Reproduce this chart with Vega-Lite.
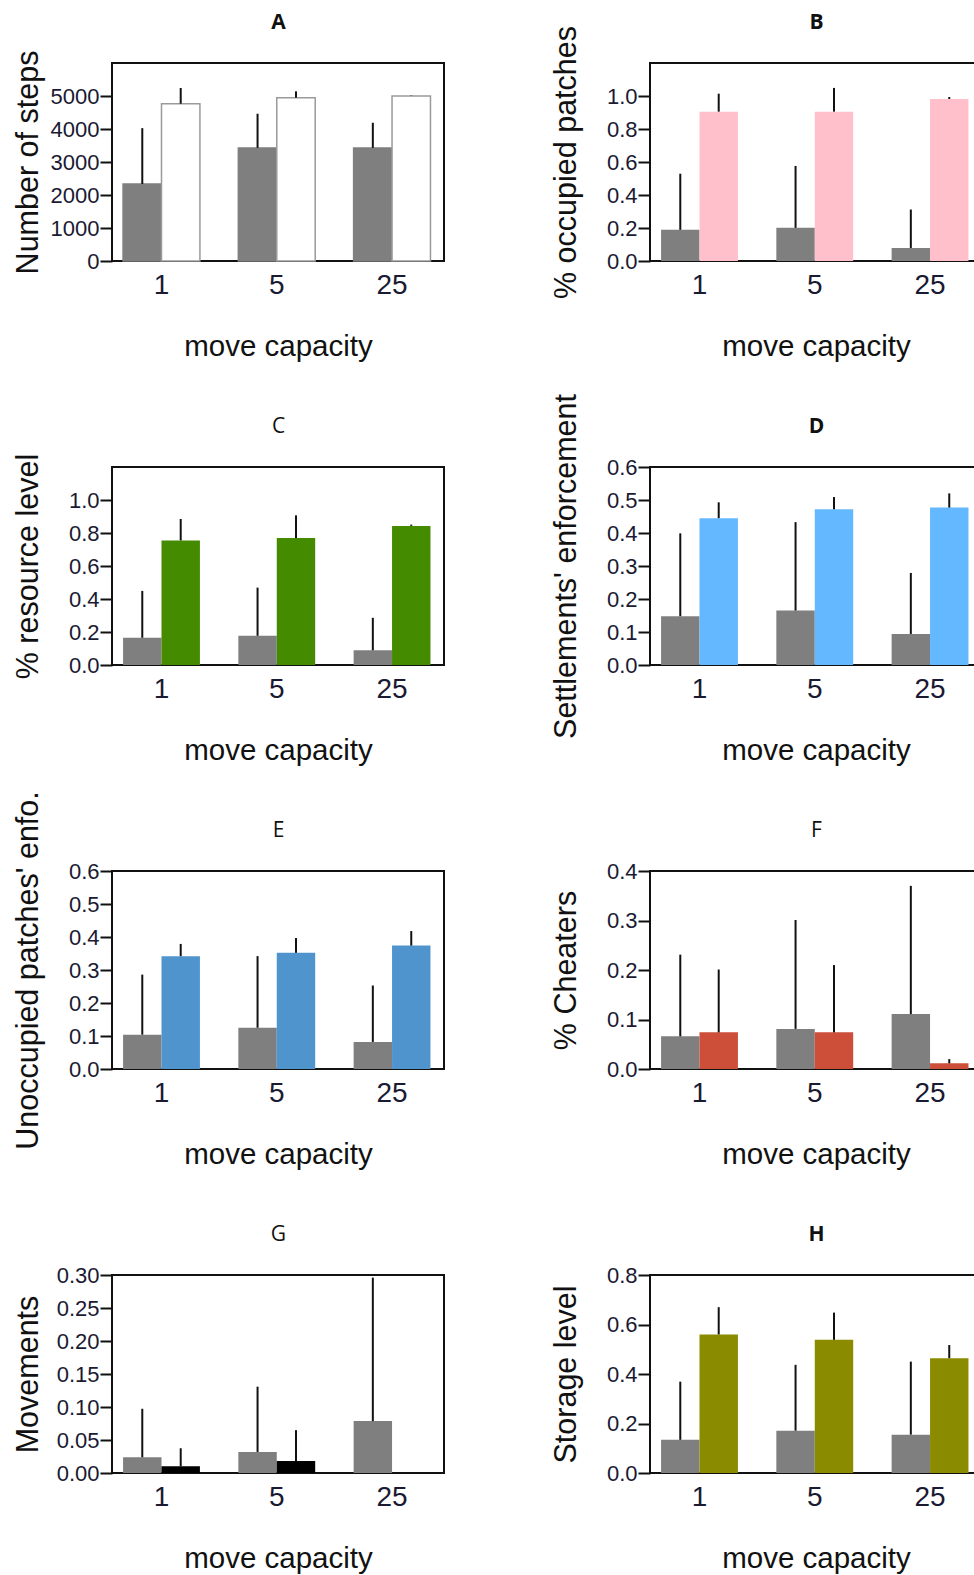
{
  "$schema": "https://vega.github.io/schema/vega-lite/v6.json",
  "padding": {"left": 11, "top": 10, "right": 0, "bottom": 0},
  "background": "white",
  "config": {
    "font": "Liberation Sans",
    "view": {"stroke": "#111111", "strokeWidth": 2},
    "axisBottom": {"domain": false, "ticks": false, "labelFontSize": 28, "labelPadding": 10, "labelAngle": 0, "labelOverlap": false, "labelColor": "#1a1a33", "titleFontSize": 29.5, "titleFontWeight": "normal", "titleY": 94, "titleBaseline": "alphabetic", "titleColor": "#111111", "grid": false},
    "axisTop": {"domain": false, "ticks": false, "labels": false, "grid": false, "titleFont": "Open Sans", "titleFontSize": 21, "titleY": -35, "titleBaseline": "alphabetic", "titleColor": "#111111"},
    "axisY": {"domain": false, "ticks": true, "tickSize": 12, "tickWidth": 2, "tickColor": "#111111", "labelFontSize": 22, "labelPadding": 1, "labelOverlap": false, "labelColor": "#1a1a33", "titleFontSize": 30.5, "titleFontWeight": "normal", "titleX": -75, "titleBaseline": "alphabetic", "titleColor": "#111111", "grid": false}
  },
  "data": {"values": [
    {"panel": "A", "capacity": "1", "series": "s1", "mean": 2333, "upper": 4026},
    {"panel": "A", "capacity": "1", "series": "s2", "mean": 4767, "upper": 5243},
    {"panel": "A", "capacity": "5", "series": "s1", "mean": 3428, "upper": 4462},
    {"panel": "A", "capacity": "5", "series": "s2", "mean": 4949, "upper": 5142},
    {"panel": "A", "capacity": "25", "series": "s1", "mean": 3428, "upper": 4189},
    {"panel": "A", "capacity": "25", "series": "s2", "mean": 5000, "upper": 5010},
    {"panel": "B", "capacity": "1", "series": "s1", "mean": 0.189, "upper": 0.529},
    {"panel": "B", "capacity": "1", "series": "s2", "mean": 0.905, "upper": 1.014},
    {"panel": "B", "capacity": "5", "series": "s1", "mean": 0.201, "upper": 0.576},
    {"panel": "B", "capacity": "5", "series": "s2", "mean": 0.905, "upper": 1.049},
    {"panel": "B", "capacity": "25", "series": "s1", "mean": 0.079, "upper": 0.312},
    {"panel": "B", "capacity": "25", "series": "s2", "mean": 0.982, "upper": 0.994},
    {"panel": "C", "capacity": "1", "series": "s1", "mean": 0.165, "upper": 0.449},
    {"panel": "C", "capacity": "1", "series": "s2", "mean": 0.755, "upper": 0.885},
    {"panel": "C", "capacity": "5", "series": "s1", "mean": 0.177, "upper": 0.469},
    {"panel": "C", "capacity": "5", "series": "s2", "mean": 0.769, "upper": 0.907},
    {"panel": "C", "capacity": "25", "series": "s1", "mean": 0.089, "upper": 0.286},
    {"panel": "C", "capacity": "25", "series": "s2", "mean": 0.843, "upper": 0.851},
    {"panel": "D", "capacity": "1", "series": "s1", "mean": 0.148, "upper": 0.399},
    {"panel": "D", "capacity": "1", "series": "s2", "mean": 0.445, "upper": 0.493},
    {"panel": "D", "capacity": "5", "series": "s1", "mean": 0.165, "upper": 0.433},
    {"panel": "D", "capacity": "5", "series": "s2", "mean": 0.472, "upper": 0.509},
    {"panel": "D", "capacity": "25", "series": "s1", "mean": 0.094, "upper": 0.279},
    {"panel": "D", "capacity": "25", "series": "s2", "mean": 0.477, "upper": 0.52},
    {"panel": "E", "capacity": "1", "series": "s1", "mean": 0.104, "upper": 0.286},
    {"panel": "E", "capacity": "1", "series": "s2", "mean": 0.342, "upper": 0.379},
    {"panel": "E", "capacity": "5", "series": "s1", "mean": 0.125, "upper": 0.342},
    {"panel": "E", "capacity": "5", "series": "s2", "mean": 0.352, "upper": 0.397},
    {"panel": "E", "capacity": "25", "series": "s1", "mean": 0.082, "upper": 0.253},
    {"panel": "E", "capacity": "25", "series": "s2", "mean": 0.374, "upper": 0.418},
    {"panel": "F", "capacity": "1", "series": "s1", "mean": 0.066, "upper": 0.231},
    {"panel": "F", "capacity": "1", "series": "s2", "mean": 0.074, "upper": 0.201},
    {"panel": "F", "capacity": "5", "series": "s1", "mean": 0.081, "upper": 0.301},
    {"panel": "F", "capacity": "5", "series": "s2", "mean": 0.074, "upper": 0.21},
    {"panel": "F", "capacity": "25", "series": "s1", "mean": 0.111, "upper": 0.37},
    {"panel": "F", "capacity": "25", "series": "s2", "mean": 0.0115, "upper": 0.02},
    {"panel": "G", "capacity": "1", "series": "s1", "mean": 0.0238, "upper": 0.0973},
    {"panel": "G", "capacity": "1", "series": "s2", "mean": 0.0101, "upper": 0.0375},
    {"panel": "G", "capacity": "5", "series": "s1", "mean": 0.0319, "upper": 0.1308},
    {"panel": "G", "capacity": "5", "series": "s2", "mean": 0.0182, "upper": 0.0649},
    {"panel": "G", "capacity": "25", "series": "s1", "mean": 0.0786, "upper": 0.296},
    {"panel": "G", "capacity": "25", "series": "s2", "mean": 0, "upper": 0},
    {"panel": "H", "capacity": "1", "series": "s1", "mean": 0.134, "upper": 0.369},
    {"panel": "H", "capacity": "1", "series": "s2", "mean": 0.56, "upper": 0.67},
    {"panel": "H", "capacity": "5", "series": "s1", "mean": 0.171, "upper": 0.437},
    {"panel": "H", "capacity": "5", "series": "s2", "mean": 0.538, "upper": 0.648},
    {"panel": "H", "capacity": "25", "series": "s1", "mean": 0.155, "upper": 0.45},
    {"panel": "H", "capacity": "25", "series": "s2", "mean": 0.464, "upper": 0.517}
  ]},
  "columns": 2,
  "bounds": "flush",
  "spacing": {"row": 206, "column": 206},
  "resolve": {"scale": {"color": "independent", "stroke": "independent"}},
  "concat": [
    {
      "width": 332, "height": 198,
      "transform": [{"filter": "datum.panel === 'A'"}],
      "resolve": {"axis": {"x": "independent"}},
      "encoding": {
        "y": {"field": "mean", "type": "quantitative", "scale": {"domain": [0, 6000], "nice": false, "zero": true}, "axis": {"title": "Number of steps", "values": [0, 1000, 2000, 3000, 4000, 5000], "format": "d"}}
      },
      "layer": [
        {"mark": {"type": "bar", "strokeWidth": 1.5},
         "encoding": {
           "x": {"field": "capacity", "type": "ordinal", "sort": ["1", "5", "25"], "scale": {"paddingInner": 0.3333, "paddingOuter": 0.1067, "align": 0.45}, "axis": {"orient": "bottom", "title": "move capacity"}},
           "xOffset": {"field": "series", "type": "nominal", "scale": {"paddingInner": 0, "paddingOuter": 0}},
           "color": {"field": "series", "type": "nominal", "scale": {"domain": ["s1", "s2"], "range": ["#7F7F7F", "#FFFFFF"]}, "legend": null},
           "stroke": {"field": "series", "type": "nominal", "scale": {"domain": ["s1", "s2"], "range": ["#7F7F7F", "#9A9A9A"]}, "legend": null}
         }},
        {"mark": {"type": "rule", "strokeWidth": 2, "color": "#111111"},
         "encoding": {
           "x": {"field": "capacity", "type": "ordinal", "sort": ["1", "5", "25"], "axis": {"orient": "top", "title": "A", "titleFontWeight": "bold", "titleFontSize": 21, "titleFont": "Open Sans"}},
           "xOffset": {"field": "series", "type": "nominal"},
           "y2": {"field": "upper"}
         }}
      ]
    },
    {
      "width": 332, "height": 198,
      "transform": [{"filter": "datum.panel === 'B'"}],
      "resolve": {"axis": {"x": "independent"}},
      "encoding": {
        "y": {"field": "mean", "type": "quantitative", "scale": {"domain": [0, 1.2], "nice": false}, "axis": {"title": "% occupied patches", "values": [0, 0.2, 0.4, 0.6, 0.8, 1.0], "format": ".1f"}}
      },
      "layer": [
        {"mark": {"type": "bar"},
         "encoding": {
           "x": {"field": "capacity", "type": "ordinal", "sort": ["1", "5", "25"], "scale": {"paddingInner": 0.3333, "paddingOuter": 0.1067, "align": 0.45}, "axis": {"orient": "bottom", "title": "move capacity"}},
           "xOffset": {"field": "series", "type": "nominal", "scale": {"paddingInner": 0, "paddingOuter": 0}},
           "color": {"field": "series", "type": "nominal", "scale": {"domain": ["s1", "s2"], "range": ["#7F7F7F", "#FFC0CB"]}, "legend": null}
         }},
        {"mark": {"type": "rule", "strokeWidth": 2, "color": "#111111"},
         "encoding": {
           "x": {"field": "capacity", "type": "ordinal", "sort": ["1", "5", "25"], "axis": {"orient": "top", "title": "B", "titleFontWeight": "bold", "titleFontSize": 21, "titleFont": "Open Sans"}},
           "xOffset": {"field": "series", "type": "nominal"},
           "y2": {"field": "upper"}
         }}
      ]
    },
    {
      "width": 332, "height": 198,
      "transform": [{"filter": "datum.panel === 'C'"}],
      "resolve": {"axis": {"x": "independent"}},
      "encoding": {
        "y": {"field": "mean", "type": "quantitative", "scale": {"domain": [0, 1.2], "nice": false}, "axis": {"title": "% resource level", "values": [0, 0.2, 0.4, 0.6, 0.8, 1.0], "format": ".1f"}}
      },
      "layer": [
        {"mark": {"type": "bar"},
         "encoding": {
           "x": {"field": "capacity", "type": "ordinal", "sort": ["1", "5", "25"], "scale": {"paddingInner": 0.3333, "paddingOuter": 0.1067, "align": 0.45}, "axis": {"orient": "bottom", "title": "move capacity"}},
           "xOffset": {"field": "series", "type": "nominal", "scale": {"paddingInner": 0, "paddingOuter": 0}},
           "color": {"field": "series", "type": "nominal", "scale": {"domain": ["s1", "s2"], "range": ["#7F7F7F", "#458B00"]}, "legend": null}
         }},
        {"mark": {"type": "rule", "strokeWidth": 2, "color": "#111111"},
         "encoding": {
           "x": {"field": "capacity", "type": "ordinal", "sort": ["1", "5", "25"], "axis": {"orient": "top", "title": "C", "titleFontWeight": "normal", "titleFontSize": 21, "titleFont": "Open Sans"}},
           "xOffset": {"field": "series", "type": "nominal"},
           "y2": {"field": "upper"}
         }}
      ]
    },
    {
      "width": 332, "height": 198,
      "transform": [{"filter": "datum.panel === 'D'"}],
      "resolve": {"axis": {"x": "independent"}},
      "encoding": {
        "y": {"field": "mean", "type": "quantitative", "scale": {"domain": [0, 0.6], "nice": false}, "axis": {"title": "Settlements' enforcement", "values": [0, 0.1, 0.2, 0.3, 0.4, 0.5, 0.6], "format": ".1f"}}
      },
      "layer": [
        {"mark": {"type": "bar"},
         "encoding": {
           "x": {"field": "capacity", "type": "ordinal", "sort": ["1", "5", "25"], "scale": {"paddingInner": 0.3333, "paddingOuter": 0.1067, "align": 0.45}, "axis": {"orient": "bottom", "title": "move capacity"}},
           "xOffset": {"field": "series", "type": "nominal", "scale": {"paddingInner": 0, "paddingOuter": 0}},
           "color": {"field": "series", "type": "nominal", "scale": {"domain": ["s1", "s2"], "range": ["#7F7F7F", "#63B8FF"]}, "legend": null}
         }},
        {"mark": {"type": "rule", "strokeWidth": 2, "color": "#111111"},
         "encoding": {
           "x": {"field": "capacity", "type": "ordinal", "sort": ["1", "5", "25"], "axis": {"orient": "top", "title": "D", "titleFontWeight": "bold", "titleFontSize": 21, "titleFont": "Open Sans"}},
           "xOffset": {"field": "series", "type": "nominal"},
           "y2": {"field": "upper"}
         }}
      ]
    },
    {
      "width": 332, "height": 198,
      "transform": [{"filter": "datum.panel === 'E'"}],
      "resolve": {"axis": {"x": "independent"}},
      "encoding": {
        "y": {"field": "mean", "type": "quantitative", "scale": {"domain": [0, 0.6], "nice": false}, "axis": {"title": "Unoccupied patches' enfo.", "values": [0, 0.1, 0.2, 0.3, 0.4, 0.5, 0.6], "format": ".1f"}}
      },
      "layer": [
        {"mark": {"type": "bar"},
         "encoding": {
           "x": {"field": "capacity", "type": "ordinal", "sort": ["1", "5", "25"], "scale": {"paddingInner": 0.3333, "paddingOuter": 0.1067, "align": 0.45}, "axis": {"orient": "bottom", "title": "move capacity"}},
           "xOffset": {"field": "series", "type": "nominal", "scale": {"paddingInner": 0, "paddingOuter": 0}},
           "color": {"field": "series", "type": "nominal", "scale": {"domain": ["s1", "s2"], "range": ["#7F7F7F", "#4F94CD"]}, "legend": null}
         }},
        {"mark": {"type": "rule", "strokeWidth": 2, "color": "#111111"},
         "encoding": {
           "x": {"field": "capacity", "type": "ordinal", "sort": ["1", "5", "25"], "axis": {"orient": "top", "title": "E", "titleFontWeight": "normal", "titleFontSize": 21, "titleFont": "Open Sans"}},
           "xOffset": {"field": "series", "type": "nominal"},
           "y2": {"field": "upper"}
         }}
      ]
    },
    {
      "width": 332, "height": 198,
      "transform": [{"filter": "datum.panel === 'F'"}],
      "resolve": {"axis": {"x": "independent"}},
      "encoding": {
        "y": {"field": "mean", "type": "quantitative", "scale": {"domain": [0, 0.4], "nice": false}, "axis": {"title": "% Cheaters", "values": [0, 0.1, 0.2, 0.3, 0.4], "format": ".1f"}}
      },
      "layer": [
        {"mark": {"type": "bar"},
         "encoding": {
           "x": {"field": "capacity", "type": "ordinal", "sort": ["1", "5", "25"], "scale": {"paddingInner": 0.3333, "paddingOuter": 0.1067, "align": 0.45}, "axis": {"orient": "bottom", "title": "move capacity"}},
           "xOffset": {"field": "series", "type": "nominal", "scale": {"paddingInner": 0, "paddingOuter": 0}},
           "color": {"field": "series", "type": "nominal", "scale": {"domain": ["s1", "s2"], "range": ["#7F7F7F", "#CD4F39"]}, "legend": null}
         }},
        {"mark": {"type": "rule", "strokeWidth": 2, "color": "#111111"},
         "encoding": {
           "x": {"field": "capacity", "type": "ordinal", "sort": ["1", "5", "25"], "axis": {"orient": "top", "title": "F", "titleFontWeight": "normal", "titleFontSize": 21, "titleFont": "Open Sans"}},
           "xOffset": {"field": "series", "type": "nominal"},
           "y2": {"field": "upper"}
         }}
      ]
    },
    {
      "width": 332, "height": 198,
      "transform": [{"filter": "datum.panel === 'G'"}],
      "resolve": {"axis": {"x": "independent"}},
      "encoding": {
        "y": {"field": "mean", "type": "quantitative", "scale": {"domain": [0, 0.3], "nice": false}, "axis": {"title": "Movements", "values": [0, 0.05, 0.1, 0.15, 0.2, 0.25, 0.3], "format": ".2f"}}
      },
      "layer": [
        {"mark": {"type": "bar"},
         "encoding": {
           "x": {"field": "capacity", "type": "ordinal", "sort": ["1", "5", "25"], "scale": {"paddingInner": 0.3333, "paddingOuter": 0.1067, "align": 0.45}, "axis": {"orient": "bottom", "title": "move capacity"}},
           "xOffset": {"field": "series", "type": "nominal", "scale": {"paddingInner": 0, "paddingOuter": 0}},
           "color": {"field": "series", "type": "nominal", "scale": {"domain": ["s1", "s2"], "range": ["#7F7F7F", "#000000"]}, "legend": null}
         }},
        {"mark": {"type": "rule", "strokeWidth": 2, "color": "#111111"},
         "encoding": {
           "x": {"field": "capacity", "type": "ordinal", "sort": ["1", "5", "25"], "axis": {"orient": "top", "title": "G", "titleFontWeight": "normal", "titleFontSize": 21, "titleFont": "Open Sans"}},
           "xOffset": {"field": "series", "type": "nominal"},
           "y2": {"field": "upper"}
         }}
      ]
    },
    {
      "width": 332, "height": 198,
      "transform": [{"filter": "datum.panel === 'H'"}],
      "resolve": {"axis": {"x": "independent"}},
      "encoding": {
        "y": {"field": "mean", "type": "quantitative", "scale": {"domain": [0, 0.8], "nice": false}, "axis": {"title": "Storage level", "values": [0, 0.2, 0.4, 0.6, 0.8], "format": ".1f"}}
      },
      "layer": [
        {"mark": {"type": "bar"},
         "encoding": {
           "x": {"field": "capacity", "type": "ordinal", "sort": ["1", "5", "25"], "scale": {"paddingInner": 0.3333, "paddingOuter": 0.1067, "align": 0.45}, "axis": {"orient": "bottom", "title": "move capacity"}},
           "xOffset": {"field": "series", "type": "nominal", "scale": {"paddingInner": 0, "paddingOuter": 0}},
           "color": {"field": "series", "type": "nominal", "scale": {"domain": ["s1", "s2"], "range": ["#7F7F7F", "#8B8B00"]}, "legend": null}
         }},
        {"mark": {"type": "rule", "strokeWidth": 2, "color": "#111111"},
         "encoding": {
           "x": {"field": "capacity", "type": "ordinal", "sort": ["1", "5", "25"], "axis": {"orient": "top", "title": "H", "titleFontWeight": "bold", "titleFontSize": 21, "titleFont": "Open Sans"}},
           "xOffset": {"field": "series", "type": "nominal"},
           "y2": {"field": "upper"}
         }}
      ]
    }
  ]
}
